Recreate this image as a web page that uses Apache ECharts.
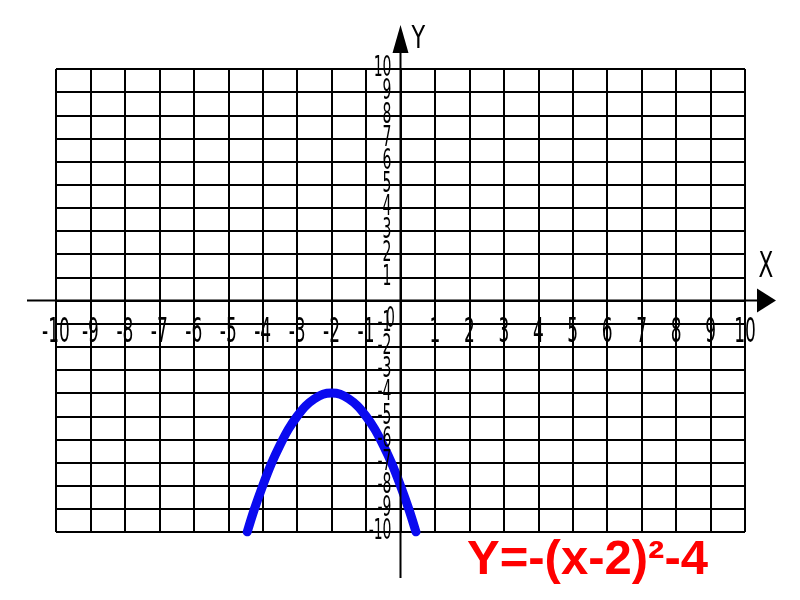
<!DOCTYPE html>
<html>
<head>
<meta charset="utf-8">
<script src="https://cdn.jsdelivr.net/npm/echarts@6/dist/echarts.min.js"></script>
<style>html,body{margin:0;padding:0;background:#fff}#c{width:800px;height:600px}</style>
</head>
<body>
<div id="c"></div>
<script>
// Data
var curveX = [-4.45, -4.25, -4, -3.75, -3.5, -3.25, -3, -2.75, -2.5, -2.25, -2, -1.75, -1.5, -1.25, -1, -0.75, -0.5, -0.25, 0, 0.25, 0.45];
var curveY = [-10, -9.05, -8, -7.05, -6.25, -5.55, -5, -4.55, -4.25, -4.05, -4, -4.05, -4.25, -4.55, -5, -5.55, -6.25, -7.05, -8, -9.05, -10];
var xTicks = [-10, -9, -8, -7, -6, -5, -4, -3, -2, -1, 1, 2, 3, 4, 5, 6, 7, 8, 9, 10];
var yTicks = [-10, -9, -8, -7, -6, -5, -4, -3, -2, -1, 1, 2, 3, 4, 5, 6, 7, 8, 9, 10];
var formulaText = 'Y=-(x-2)\u00B2-4';

var points = curveX.map(function (x, i) { return [x, curveY[i]]; });
var lblFont = '"DejaVu Sans", sans-serif';

var chart = echarts.init(document.getElementById('c'), null, {renderer: 'canvas'});
chart.setOption({
  animation: false,
  backgroundColor: '#ffffff',
  grid: {left: 56, right: 55, top: 69, bottom: 68, containLabel: false},
  title: {
    text: formulaText,
    left: 462, top: 531,
    textStyle: {color: '#ff0000', fontSize: 49, fontWeight: 'bold', fontFamily: '"Liberation Sans", Arial, sans-serif'}
  },
  xAxis: {
    type: 'value', min: -10, max: 10, interval: 1,
    axisLine: {show: false, onZero: false},
    axisTick: {show: false},
    splitLine: {show: true, lineStyle: {color: '#000', width: 2}},
    axisLabel: {show: false}
  },
  yAxis: {
    type: 'value', min: -10, max: 10, interval: 1,
    axisLine: {show: false, onZero: false},
    axisTick: {show: false},
    splitLine: {show: true, lineStyle: {color: '#000', width: 2}},
    axisLabel: {show: false}
  },
  series: [{
    type: 'line',
    data: points,
    smooth: 0.3,
    showSymbol: false,
    lineStyle: {color: '#0a0af0', width: 9, cap: 'round'},
    z: 5
  }]
});

var o = chart.convertToPixel({gridIndex: 0}, [0, 0]);
var ox = o[0], oy = o[1];
function lbl(x, y, text, size, align, sx) {
  return {type: 'text', x: x, y: y, scaleX: sx, z: 10,
    style: {text: text, fontSize: size, fontFamily: lblFont, fill: '#000', align: align, verticalAlign: 'middle'}};
}
var gfx = [
  {type: 'line', shape: {x1: ox, y1: 45, x2: ox, y2: 578}, style: {stroke: '#000', lineWidth: 2}, z: 10},
  {type: 'polygon', shape: {points: [[ox, 25], [ox - 8, 53], [ox + 8, 53]]}, style: {fill: '#000'}, z: 10},
  {type: 'line', shape: {x1: 27, y1: oy, x2: 760, y2: oy}, style: {stroke: '#000', lineWidth: 2}, z: 10},
  {type: 'polygon', shape: {points: [[776, oy], [757, oy - 12], [757, oy + 12]]}, style: {fill: '#000'}, z: 10},
  lbl(ox + 11, 40, 'Y', 32, 'left', 0.7),
  lbl(766, 268, 'X', 36, 'center', 0.6),
  lbl(ox - 10, oy + 19, '0', 28, 'center', 0.5)
];
xTicks.forEach(function (v) {
  var p = chart.convertToPixel({gridIndex: 0}, [v, 0]);
  gfx.push(lbl(p[0], p[1] + 33, String(v), 34, 'center', 0.5));
});
yTicks.forEach(function (v) {
  var p = chart.convertToPixel({gridIndex: 0}, [0, v]);
  gfx.push(lbl(p[0] - 9, p[1], String(v), 28, 'right', 0.5));
});
chart.setOption({graphic: gfx});
</script>
</body>
</html>
